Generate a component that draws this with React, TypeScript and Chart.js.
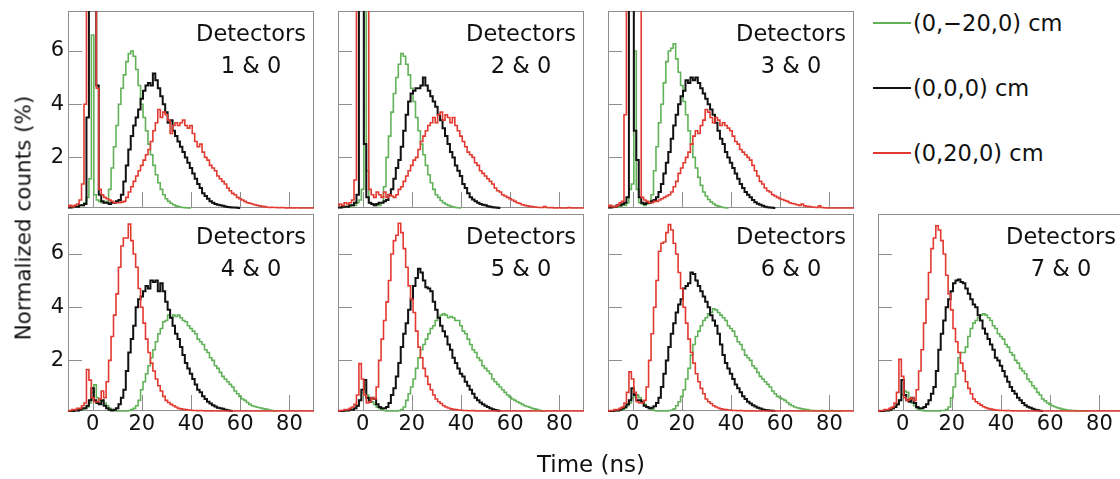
import React, { useEffect, useRef } from "react";
import { Chart, registerables } from "chart.js";
Chart.register(...registerables);

// ---- categories / ticks ----
const TIME_NS = [
  -10, -9, -8, -7, -6, -5, -4, -3, -2, -1, 0, 1, 2, 3, 4, 5, 6, 7, 8, 9,
  10, 11, 12, 13, 14, 15, 16, 17, 18, 19, 20, 21, 22, 23, 24, 25, 26, 27, 28, 29,
  30, 31, 32, 33, 34, 35, 36, 37, 38, 39, 40, 41, 42, 43, 44, 45, 46, 47, 48, 49,
  50, 51, 52, 53, 54, 55, 56, 57, 58, 59, 60, 61, 62, 63, 64, 65, 66, 67, 68, 69,
  70, 71, 72, 73, 74, 75, 76, 77, 78, 79, 80, 81, 82, 83, 84, 85, 86, 87, 88, 89, 90,
];
const X_TICKS = [0, 20, 40, 60, 80];
const Y_TICKS = [2, 4, 6];
const PANEL_NAMES = ["1 & 0", "2 & 0", "3 & 0", "4 & 0", "5 & 0", "6 & 0", "7 & 0"];
const SERIES_LABELS = ["(0,\u221220,0) cm", "(0,0,0) cm", "(0,20,0) cm"];

// ---- series values (index 0 = -10 ns, 1 ns bins) ----
const GREEN_1 = [0.12,0.12,0.12,0.15,0.15,0.2,0.2,0.3, 0.5,1.2,6.6,0.6,
  0.4,0.35,0.3,0.3,0.35, 0.8,1.6,2.4,3.2,4.0,4.6,5.1,5.6,5.9,6.0,
  5.8,5.3,4.7,4.0,3.5,3.0,2.5,2.1,1.7,1.35, 1.05,0.8,0.6,0.45,0.35,0.28,0.22,0.18,0.15,0.13,
  0.12,0.11,0.1,0.1];
const BLACK_1 = [0.12,0.12,0.15,0.15,0.15,0.2,0.2,0.25, 3.5,14,14,14,4.7,
  0.6,0.35,0.3,0.3,0.25,0.3,0.3,0.35,0.4,0.6, 1.1,1.7,2.3,2.8,3.2,3.5,3.8,4.2,4.5,4.7,
  4.8,4.7,5.15,4.9,4.6,4.3,4.0,3.7,3.3,3.4, 3.0,2.8,2.6,2.4,2.2,2.0,1.8,1.6,1.4,1.2,
  1.0,0.85,0.65,0.55,0.45,0.35,0.3,0.25,0.22,0.2, 0.18,0.16,0.14,0.13,0.12,0.12,0.11,0.1];
const RED_1 = [0.15,0.2,0.15,0.2,0.25,0.4, 1.0,4.0,14,14,14,14,4.6,
  0.8,0.6,0.5,0.45,0.4,0.35,0.3,0.3,0.3,0.32, 0.35,0.5,0.7,0.9,1.1,1.3,1.5,1.7,1.9,2.1,
  2.3,2.6,3.0,3.3,3.8,3.5,3.7,3.6,3.4,2.9, 3.2,3.3,3.2,3.3,3.4,3.2,3.1,3.2,2.9,2.6,
  2.4,2.5,2.2,2.0,1.9,1.7,1.6,1.5,1.3,1.2, 1.1,1.0,0.85,0.75,0.65,0.6,0.5,0.45,0.4,0.35,
  0.3,0.28,0.25,0.22,0.2,0.18,0.16,0.15,0.13,0.12, 0.13,0.12,0.12,0.11,0.12,0.11,0.1,0.11,0.1,0.1,
  0.11,0.1,0.1,0.1,0.1,0.1,0.1,0.1];

const GREEN_2 = [0.12,0.12,0.12,0.15,0.15,0.15,0.2,0.2,0.3, 0.4,0.8,14,1.5,
  0.3,0.25,0.2,0.2,0.2,0.3,0.9,2.0,2.8,3.7, 4.4,5.0,5.5,5.9,5.8,5.5,5.1,4.6,4.1,3.5,
  3.0,2.5,2.1,1.7,1.35,1.05,0.8,0.6,0.5,0.38, 0.3,0.24,0.2,0.16,0.14,0.12,0.11,0.1];
const BLACK_2 = [0.12,0.12,0.15,0.15,0.15,0.2,0.2,0.3,0.6, 14,14,2.5,0.5,
  0.3,0.25,0.2,0.25,0.3,0.3,0.35,0.4,0.6,0.8, 1.2,1.6,1.9,2.4,3.0,3.6,4.1,4.4,4.5,4.6,
  4.6,4.7,5.0,4.7,4.5,4.3,4.1,3.9,3.6,3.4, 3.1,2.8,2.5,2.2,2.0,1.7,1.5,1.3,1.0,0.85,
  0.65,0.5,0.42,0.35,0.3,0.25,0.22,0.2,0.17,0.15, 0.13,0.12,0.11,0.1];
const RED_2 = [0.2,0.25,0.2,0.3,0.25,0.3,0.4, 1.15,14,14,14,14,14,
  0.8,0.6,0.5,0.7,0.6,0.5,0.7,0.5,0.6,0.55, 0.5,0.6,0.8,0.9,1.1,1.3,1.5,1.7,1.9,2.0,
  2.3,2.6,2.8,3.0,3.2,3.3,3.5,3.3,3.6,3.7, 3.4,3.6,3.5,3.3,3.5,3.2,3.0,2.8,2.6,2.4,
  2.2,2.1,2.0,1.8,1.7,1.5,1.4,1.3,1.2,1.1, 1.0,0.85,0.75,0.7,0.6,0.55,0.5,0.45,0.4,0.35,
  0.3,0.27,0.22,0.2,0.18,0.16,0.15,0.14,0.13,0.12, 0.12,0.15,0.12,0.11,0.12,0.1,0.1,0.11,0.1,0.1,
  0.1,0.12,0.1,0.1,0.1,0.1,0.1,0.1];

const GREEN_3 = [0.12,0.12,0.12,0.15,0.15,0.15,0.2,0.2,0.3, 0.8,1.0,6.0,0.8,
  0.3,0.25,0.2,0.25,0.3,0.6,1.5,2.4,3.3,4.0, 4.8,5.6,6.0,6.1,6.27,5.7,5.2,4.7,4.1,3.6,
  3.0,2.5,2.0,1.6,1.25,0.95,0.7,0.55,0.42,0.33, 0.26,0.2,0.17,0.14,0.12,0.11,0.1];
const BLACK_3 = [0.12,0.12,0.15,0.15,0.2,0.2,0.25,0.3,0.5, 14,14,3.0,1.9,
  0.5,0.3,0.25,0.3,0.3,0.35,0.4,0.5,0.7,1.0, 1.4,1.8,2.2,2.7,3.2,3.6,4.0,4.3,4.5,4.9,
  4.8,5.0,4.9,5.0,4.8,4.6,4.4,4.2,4.0,3.8, 3.6,3.3,3.0,2.7,2.5,2.2,2.0,1.8,1.6,1.4,
  1.2,1.0,0.85,0.7,0.6,0.5,0.4,0.32,0.26,0.22, 0.18,0.15,0.13,0.12,0.11,0.1];
const RED_3 = [0.15,0.2,0.15,0.15,0.2,0.3,0.35, 3.6,14,14,14,14,14,14,
  0.5,0.4,0.35,0.3,0.3,0.35,0.35,0.4,0.45,0.5, 0.55,0.6,0.7,0.9,1.1,1.4,1.6,1.8,2.0,2.2,
  2.5,2.8,3.0,2.9,3.2,3.4,3.8,3.7,3.5,3.3, 3.5,3.4,3.2,3.3,3.2,3.1,3.0,2.8,2.6,2.5,
  2.3,2.2,2.1,2.0,1.9,1.7,1.5,1.3,1.1,1.0, 0.85,0.75,0.7,0.6,0.55,0.5,0.45,0.42,0.38,0.35,
  0.3,0.27,0.25,0.22,0.2,0.25,0.18,0.16,0.15,0.14, 0.13,0.12,0.18,0.12,0.11,0.1,0.1,0.1,0.1,0.1,
  0.1,0.1,0.1,0.1,0.1,0.1,0.1];

const GREEN_4 = [0.1,0.1,0.1,0.12,0.12,0.15,0.15, 0.2,0.25,0.4,0.8,1.08,0.6,0.5,0.5,0.4,0.3,
  0.2,0.15,0.12,0.1,0.1,0.1,0.1,0.1,0.12,0.15, 0.2,0.3,0.5,0.9,1.2,1.5,1.8,2.1,2.4,2.7,
  3.0,3.2,3.45,3.5,3.7,3.6,3.7,3.65,3.7,3.6, 3.5,3.45,3.3,3.2,3.1,3.0,2.8,2.7,2.6,2.4,
  2.3,2.1,2.0,1.8,1.7,1.55,1.4,1.3,1.2,1.1, 1.0,0.85,0.75,0.65,0.55,0.5,0.42,0.35,0.3,0.27,
  0.24,0.22,0.2,0.18,0.16,0.14,0.12,0.11,0.1];
const BLACK_4 = [0.1,0.1,0.1,0.12,0.12,0.15,0.2, 0.2,0.3,0.5,0.95,0.5,0.4,0.35,0.5,0.3,0.2,
  0.15,0.12,0.15,0.2,0.35,0.6,0.9,1.6,2.3,2.8, 3.3,4.0,4.3,4.4,4.6,4.8,4.7,5.0,4.95,5.0,
  4.6,4.9,4.6,4.2,3.9,3.6,3.3,3.0,2.8,2.5, 2.2,1.9,1.7,1.5,1.3,1.1,0.9,0.8,0.65,0.55,
  0.45,0.38,0.32,0.27,0.22,0.2,0.18,0.15,0.13,0.11, 0.1];
const RED_4 = [0.1,0.12,0.15,0.15,0.2,0.2,0.3,0.4, 1.66,1.26,0.6,0.45,0.45,0.55,0.85,0.6,1.2,2.0,
  2.9,3.7,4.5,5.5,6.3,6.6,6.6,7.12,6.5,6.0, 5.5,4.7,4.0,3.4,2.8,2.3,1.9,1.6,1.3,1.05,
  0.85,0.65,0.5,0.42,0.35,0.3,0.25,0.2,0.18,0.16, 0.15,0.14,0.13,0.12,0.12,0.11,0.12,0.11,0.1,0.11,
  0.1,0.1,0.11,0.1,0.1,0.1,0.1,0.1,0.1,0.1, 0.1,0.1,0.1,0.1,0.1,0.1,0.1,0.1,0.1,0.1,
  0.1,0.1,0.1,0.1,0.1,0.1,0.1,0.1,0.1,0.1, 0.1,0.1,0.1,0.1,0.1,0.1,0.1,0.1,0.1,0.1,
  0.1,0.1,0.1];

const GREEN_5 = [0.1,0.1,0.1,0.12,0.12,0.15,0.15,0.2,0.3,0.5, 0.8,1.1,0.7,0.5,0.45,0.35,0.25,0.2,0.15,0.12,
  0.1,0.1,0.1,0.1,0.1,0.12,0.15,0.25,0.5,0.75, 1.0,1.3,1.7,2.1,2.4,2.6,2.8,3.0,3.2,3.3,
  3.5,3.6,3.7,3.75,3.7,3.6,3.65,3.6,3.5,3.5, 3.3,3.1,3.0,2.8,2.6,2.4,2.3,2.1,2.0,1.8,
  1.7,1.6,1.5,1.3,1.2,1.1,1.0,0.9,0.8,0.7, 0.62,0.55,0.5,0.45,0.4,0.35,0.3,0.27,0.24,0.2,
  0.18,0.15,0.13,0.11,0.1];
const BLACK_5 = [0.1,0.1,0.1,0.12,0.12,0.15,0.15,0.2,0.3,0.5, 0.9,1.26,0.6,0.45,0.6,0.55,0.35,0.25,0.2,0.2,
  0.25,0.4,0.7,0.95,1.4,1.9,2.5,3.0,3.4,3.9, 4.3,4.8,5.1,5.44,5.3,5.0,4.75,4.7,4.6,4.2,
  3.9,3.6,3.3,3.1,2.9,2.6,2.4,2.1,1.9,1.7, 1.5,1.4,1.2,1.05,0.9,0.75,0.6,0.5,0.42,0.35,
  0.3,0.25,0.2,0.17,0.14,0.12,0.1];
const RED_5 = [0.1,0.12,0.12,0.15,0.15,0.2,0.25,0.35,0.7,1.88, 1.3,0.7,0.4,0.45,0.6,0.55,1.0,2.0,2.8,3.5,
  4.2,5.0,6.0,6.5,6.7,7.15,6.8,6.2,5.5,4.8, 4.3,3.8,3.1,2.5,2.1,1.7,1.4,1.1,0.9,0.7,
  0.55,0.45,0.38,0.3,0.25,0.21,0.18,0.16,0.15,0.14, 0.13,0.12,0.12,0.11,0.11,0.12,0.1,0.1,0.11,0.1,
  0.1,0.1,0.1,0.1,0.1,0.1,0.1,0.1,0.1,0.1, 0.1,0.1,0.1,0.1,0.1,0.1,0.1,0.1,0.1,0.1,
  0.1,0.1,0.1,0.1,0.1,0.1,0.1,0.1,0.1,0.1, 0.1,0.1,0.1,0.1,0.1,0.1,0.1,0.1,0.1,0.1,0.1];

const GREEN_6 = [0.1,0.1,0.1,0.12,0.12,0.15,0.15,0.2,0.3,0.4, 0.6,0.75,0.7,0.6,0.45,0.35,0.25,0.2,0.15,0.12,
  0.1,0.1,0.1,0.1,0.1,0.12,0.13,0.18,0.3,0.45, 0.65,0.9,1.3,1.7,2.2,2.6,2.9,3.1,3.3,3.5,
  3.6,3.75,3.8,3.94,3.9,3.8,3.7,3.6,3.5,3.3, 3.2,3.1,2.9,2.7,2.6,2.4,2.2,2.1,2.0,1.8,
  1.7,1.55,1.4,1.3,1.2,1.1,1.0,0.85,0.75,0.65, 0.6,0.55,0.5,0.42,0.35,0.3,0.25,0.22,0.2,0.18,
  0.16,0.15,0.13,0.12,0.12,0.11,0.11,0.12,0.1,0.1, 0.11,0.12,0.1,0.11,0.1,0.1];
const BLACK_6 = [0.1,0.1,0.1,0.12,0.12,0.15,0.2,0.25,0.35,0.5, 0.95,0.7,0.5,0.5,0.45,0.3,0.25,0.2,0.22,0.28,
  0.4,0.6,1.0,1.5,2.0,2.5,3.0,3.4,3.8,4.1, 4.3,4.7,4.8,4.9,5.3,5.25,5.0,4.8,4.6,4.4,
  4.2,4.0,3.7,3.5,3.3,3.0,2.6,2.2,1.9,1.7, 1.5,1.3,1.1,0.95,0.8,0.65,0.55,0.45,0.38,0.32,
  0.27,0.22,0.19,0.16,0.14,0.13,0.12,0.11,0.1];
const RED_6 = [0.1,0.12,0.12,0.15,0.15,0.2,0.25,0.4,0.8,1.57, 1.3,0.8,0.45,0.4,0.4,0.5,1.0,2.0,3.0,4.0,
  5.0,6.1,6.4,6.45,6.8,7.1,6.9,6.4,6.0,5.3, 4.7,4.0,3.4,2.8,2.3,1.9,1.5,1.2,0.95,0.75,
  0.55,0.45,0.38,0.3,0.25,0.21,0.18,0.16,0.15,0.14, 0.13,0.12,0.12,0.11,0.12,0.11,0.1,0.11,0.1,0.1,
  0.1,0.1,0.1,0.1,0.1,0.1,0.1,0.1,0.1,0.1, 0.1,0.1,0.1,0.1,0.1,0.1,0.1,0.1,0.1,0.1,
  0.1,0.1,0.1,0.1,0.1,0.1,0.1,0.1,0.1,0.1, 0.1,0.1,0.1,0.1,0.1,0.1,0.1,0.1,0.1,0.1,0.1];

const GREEN_7 = [0.1,0.1,0.1,0.12,0.12,0.15,0.2,0.25,0.35,0.5, 0.7,0.85,0.8,0.55,0.4,0.3,0.2,0.15,0.12,0.1,
  0.1,0.1,0.1,0.1,0.1,0.1,0.12,0.12,0.15,0.25, 0.6,1.0,1.5,2.1,2.3,2.3,2.5,2.9,3.2,3.4,
  3.5,3.6,3.7,3.75,3.7,3.6,3.5,3.3,3.2,3.0, 2.9,2.8,2.6,2.5,2.3,2.2,2.0,1.9,1.7,1.6,
  1.5,1.3,1.2,1.05,0.95,0.8,0.7,0.55,0.48,0.4, 0.35,0.3,0.26,0.22,0.2,0.17,0.15,0.14,0.13,0.12,
  0.12,0.11,0.11,0.1,0.1,0.1];
const BLACK_7 = [0.1,0.1,0.1,0.12,0.12,0.15,0.2,0.25,0.35,0.5, 1.26,0.7,0.5,0.45,0.6,0.4,0.25,0.2,0.2,0.25,
  0.35,0.5,0.75,1.0,1.6,2.4,3.0,3.5,4.0,4.3, 4.6,4.9,5.0,5.04,4.95,4.9,4.7,4.5,4.3,4.1,
  4.0,3.7,3.5,3.2,3.0,2.8,2.6,2.4,2.1,2.0, 1.8,1.6,1.4,1.2,1.0,0.85,0.75,0.6,0.5,0.4,
  0.32,0.26,0.22,0.18,0.15,0.13,0.11,0.1];
const RED_7 = [0.1,0.12,0.12,0.15,0.15,0.2,0.25,0.4,0.8,2.04, 1.4,0.6,0.5,0.55,0.6,0.5,0.9,1.6,2.4,3.4,
  4.3,5.3,6.2,6.6,7.06,6.9,6.5,6.0,5.2,4.5, 3.9,3.2,2.7,2.3,1.9,1.6,1.2,0.95,0.75,0.55,
  0.45,0.38,0.32,0.26,0.22,0.19,0.17,0.15,0.14,0.13, 0.12,0.12,0.11,0.12,0.11,0.1,0.11,0.1,0.1,0.1,
  0.1,0.1,0.1,0.1,0.1,0.1,0.1,0.1,0.1,0.1, 0.1,0.1,0.1,0.1,0.1,0.1,0.1,0.1,0.1,0.1,
  0.1,0.1,0.1,0.1,0.1,0.1,0.1,0.1,0.1,0.1, 0.1,0.1,0.1,0.1,0.1,0.1,0.1,0.1,0.1,0.1,0.1];

const GREEN_SERIES = [GREEN_1, GREEN_2, GREEN_3, GREEN_4, GREEN_5, GREEN_6, GREEN_7];
const BLACK_SERIES = [BLACK_1, BLACK_2, BLACK_3, BLACK_4, BLACK_5, BLACK_6, BLACK_7];
const RED_SERIES = [RED_1, RED_2, RED_3, RED_4, RED_5, RED_6, RED_7];

// ---- layout / style ----
const FONT = '"DejaVu Sans", "Liberation Sans", sans-serif';
const C_GREEN = "#62b25a";
const C_BLACK = "#111111";
const C_RED = "#e23a30";
const C_FRAME = "#8e8e8e";
const PANEL_W = 246;
const PANEL_H = 197;
const COL_LEFT = [68, 338, 608, 878];
const ROW_TOP = [11, 214];
const PAD_L = 60, PAD_T = 26, PAD_R = 12, PAD_B = 40;

function makeDecor(name: string) {
  return {
    id: "panelDecor",
    beforeDatasetsDraw(chart: any) {
      const { ctx, chartArea: a, scales } = chart;
      ctx.save();
      ctx.strokeStyle = C_FRAME;
      ctx.lineWidth = 1;
      ctx.strokeRect(a.left + 0.5, a.top + 0.5, a.right - a.left - 1, a.bottom - a.top - 1);
      ctx.beginPath();
      X_TICKS.forEach((v) => {
        const px = Math.round(scales.x.getPixelForValue(v)) + 0.5;
        ctx.moveTo(px, a.bottom);
        ctx.lineTo(px, a.bottom - 16);
      });
      Y_TICKS.forEach((v) => {
        const py = Math.round(scales.y.getPixelForValue(v)) + 0.5;
        ctx.moveTo(a.left, py);
        ctx.lineTo(a.left + 14, py);
      });
      ctx.stroke();
      ctx.restore();
    },
    afterDraw(chart: any) {
      const { ctx, chartArea: a } = chart;
      ctx.save();
      ctx.fillStyle = "#111";
      ctx.font = `22.5px ${FONT}`;
      ctx.textAlign = "center";
      ctx.textBaseline = "alphabetic";
      ctx.fillText("Detectors", a.left + 183, a.top + 29.5);
      ctx.fillText(name, a.left + 183, a.top + 62);
      ctx.restore();
    },
  };
}

function Panel({ index, left, top, showX, showY }: { index: number; left: number; top: number; showX: boolean; showY: boolean }) {
  const ref = useRef<HTMLCanvasElement>(null);
  useEffect(() => {
    if (!ref.current) return;
    const pts = (vals: number[]) => vals.map((v, i) => ({ x: TIME_NS[i], y: v }));
    const line = (label: string, vals: number[], color: string, w: number) => ({
      label,
      data: pts(vals),
      borderColor: color,
      backgroundColor: color,
      borderWidth: w,
      pointRadius: 0,
      stepped: "middle" as const,
      fill: false,
      clip: { left: 0, top: 0, right: 0, bottom: 2 },
    });
    const tickFont = { family: FONT, size: 21 };
    const chart = new Chart(ref.current, {
      type: "line",
      data: {
        datasets: [
          line(SERIES_LABELS[2], RED_SERIES[index], C_RED, 1.6),
          line(SERIES_LABELS[1], BLACK_SERIES[index], C_BLACK, 2),
          line(SERIES_LABELS[0], GREEN_SERIES[index], C_GREEN, 1.6),
        ],
      },
      options: {
        animation: false,
        responsive: false,
        maintainAspectRatio: false,
        events: [],
        layout: { padding: { top: PAD_T, right: PAD_R, left: 0, bottom: 0 } },
        plugins: { legend: { display: false }, tooltip: { enabled: false } },
        scales: {
          x: {
            type: "linear",
            min: -10,
            max: 90,
            afterBuildTicks: (s: any) => { s.ticks = X_TICKS.map((v) => ({ value: v })); },
            afterFit: (s: any) => { s.height = PAD_B; },
            ticks: { display: showX, color: "#111", font: tickFont, padding: 1, maxRotation: 0, autoSkip: false },
            grid: { display: false, drawTicks: false, tickLength: 0 },
            border: { display: false },
          },
          y: {
            type: "linear",
            min: 0.1,
            max: 7.5,
            afterBuildTicks: (s: any) => { s.ticks = Y_TICKS.map((v) => ({ value: v })); },
            afterFit: (s: any) => { s.width = PAD_L; },
            ticks: { display: showY, color: "#111", font: tickFont, padding: 4 },
            grid: { display: false, drawTicks: false, tickLength: 0 },
            border: { display: false },
          },
        },
      },
      plugins: [makeDecor(PANEL_NAMES[index])],
    } as any);
    return () => chart.destroy();
  }, [index, showX, showY]);
  const w = PAD_L + PANEL_W + PAD_R;
  const h = PAD_T + PANEL_H + PAD_B;
  return (
    <canvas
      ref={ref}
      width={w}
      height={h}
      style={{ position: "absolute", left: left - PAD_L, top: top - PAD_T, width: w, height: h }}
    />
  );
}

export default function App() {
  const panels = [
    { left: COL_LEFT[0], top: ROW_TOP[0], showX: false, showY: true },
    { left: COL_LEFT[1], top: ROW_TOP[0], showX: false, showY: false },
    { left: COL_LEFT[2], top: ROW_TOP[0], showX: false, showY: false },
    { left: COL_LEFT[0], top: ROW_TOP[1], showX: true, showY: true },
    { left: COL_LEFT[1], top: ROW_TOP[1], showX: true, showY: false },
    { left: COL_LEFT[2], top: ROW_TOP[1], showX: true, showY: false },
    { left: COL_LEFT[3], top: ROW_TOP[1], showX: true, showY: false },
  ];
  const legendRows = [
    { label: SERIES_LABELS[0], color: C_GREEN, y: 23, w: 1.6 },
    { label: SERIES_LABELS[1], color: C_BLACK, y: 88, w: 2 },
    { label: SERIES_LABELS[2], color: C_RED, y: 153, w: 1.6 },
  ];
  return (
    <div style={{ position: "fixed", left: 0, top: 0, width: 1120, height: 479, overflow: "hidden", background: "#fff", fontFamily: FONT, color: "#111" }}>
      {panels.map((p, i) => (
        <Panel key={i} index={i} left={p.left} top={p.top} showX={p.showX} showY={p.showY} />
      ))}
      <div style={{ position: "absolute", left: 23, top: 218, transform: "translate(-50%, -50%) rotate(-90deg)", fontSize: 21.5, whiteSpace: "nowrap" }}>
        Normalized counts (%)
      </div>
      <div style={{ position: "absolute", left: 591, top: 464, transform: "translate(-50%, -50%)", fontSize: 23, whiteSpace: "nowrap" }}>
        Time (ns)
      </div>
      {legendRows.map((r, i) => (
        <div key={i} style={{ position: "absolute", left: 873, top: r.y - 15, height: 30, display: "flex", alignItems: "center", whiteSpace: "nowrap" }}>
          <div style={{ width: 38, height: r.w, background: r.color, marginRight: 2 }} />
          <span style={{ fontSize: 22.5 }}>{r.label}</span>
        </div>
      ))}
    </div>
  );
}
